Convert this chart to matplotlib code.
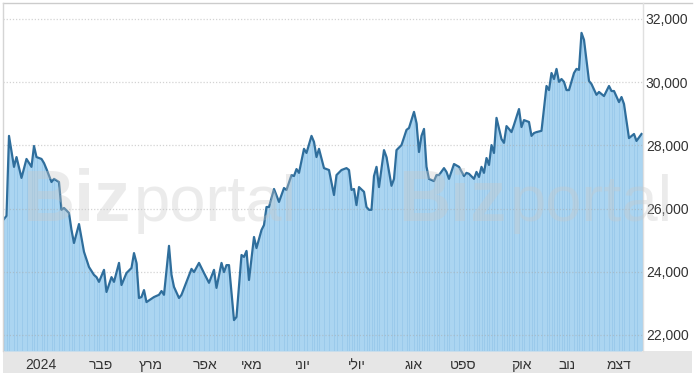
import matplotlib
matplotlib.use("Agg")
import matplotlib.pyplot as plt
from matplotlib.patches import Rectangle
from matplotlib.lines import Line2D
from matplotlib.ticker import StrMethodFormatter

plt.rcParams['font.family'] = ['Liberation Sans', 'DejaVu Sans']

# trading-session index and index level
sessions = [0, 1, 2, 4, 5, 7, 9, 11, 12, 13, 15, 16, 17, 19, 20, 22, 23, 24, 26, 27,
            28, 30, 32, 34, 36, 37, 38, 40, 41, 43, 44, 46, 47, 49, 51, 52, 53, 54, 55, 56,
            57, 60, 62, 63, 64, 66, 67, 68, 70, 71, 73, 75, 76, 78, 80, 82, 84, 85, 87, 88,
            89, 90, 92, 93, 95, 96, 97, 98, 100, 101, 103, 104, 105, 106, 108, 110, 112, 113, 115, 116,
            117, 118, 120, 121, 123, 124, 125, 126, 128, 130, 132, 133, 135, 137, 138, 139, 140, 141, 142, 144,
            145, 146, 147, 148, 149, 150, 152, 153, 155, 156, 157, 159, 161, 162, 164, 165, 166, 167, 168, 169,
            170, 172, 173, 174, 176, 177, 178, 180, 182, 184, 185, 186, 188, 189, 190, 191, 192, 193, 194, 195,
            196, 197, 199, 200, 201, 202, 203, 204, 206, 207, 208, 210, 211, 212, 213, 215, 217, 218, 219, 220,
            221, 222, 223, 224, 225, 226, 228, 229, 230, 231, 232, 234, 235, 237, 238, 240, 242, 243, 244, 246,
            247, 248, 250, 252, 253, 255]
values = [25670, 25770, 28300, 27320, 27630, 26970, 27570, 27320, 27980, 27630, 27570, 27440, 27250, 26840, 26940, 26840, 25960, 26020, 25860, 25320,
          24910, 25510, 24630, 24150, 23900, 23830, 23680, 24060, 23360, 23830, 23680, 24280, 23580, 23960, 24120, 24590, 24280, 23170, 23200, 23420,
          23040, 23200, 23270, 23390, 23270, 24820, 23900, 23520, 23170, 23270, 23680, 24090, 23990, 24280, 23960, 23650, 24060, 23490, 24280, 23990,
          24210, 24210, 22470, 22570, 24530, 24470, 24660, 23740, 25100, 24750, 25320, 25480, 26050, 26050, 26620, 26210, 26650, 26590, 27060, 27030,
          27250, 27130, 27890, 27760, 28300, 28110, 27630, 27890, 27280, 27220, 26430, 27060, 27220, 27280, 27220, 26590, 26620, 26110, 26680, 26530,
          26050, 25960, 25960, 27030, 27320, 26680, 27850, 27630, 26720, 26940, 27850, 28010, 28490, 28550, 29060, 28710, 27790, 28300, 28520, 27320,
          26940, 26870, 27060, 27060, 27280, 27160, 26940, 27410, 27320, 27030, 27130, 27100, 26940, 27160, 27000, 27320, 27130, 27600, 27380, 28010,
          27760, 28870, 28200, 28080, 28610, 28520, 28420, 28650, 29150, 28580, 28800, 28740, 28300, 28390, 28420, 28460, 29880, 29750, 30290, 30100,
          30420, 30010, 30100, 30010, 29750, 29750, 30290, 30420, 30390, 31560, 31340, 30040, 29940, 29600, 29690, 29560, 29880, 29720, 29720, 29370,
          29530, 29310, 28230, 28360, 28140, 28360]

month_ticks = [14.8, 38.8, 58.8, 80.4, 99.2, 119.6, 141.2, 164.0, 183.6, 206.8, 225.2, 246.0]
month_labels = ['2024', 'פבר', 'מרץ', 'אפר', 'מאי', 'יוני', 'יולי', 'אוג', 'ספט', 'אוק', 'נוב', 'דצמ']
y_ticks = [22000, 24000, 26000, 28000, 30000, 32000]


def visual(s):
    # Hebrew words are laid out right-to-left; digits stay as they are
    return s if s.isdigit() else s[::-1]


W, H = 700, 377
fig = plt.figure(figsize=(W / 100, H / 100), dpi=100)
fig.patch.set_facecolor('white')
ax = fig.add_axes([3 / W, (H - 351) / H, 640 / W, 348 / H])
ax.set_facecolor('white')

y_lo, y_hi = 21492, 32506
ax.set_ylim(y_lo, y_hi)
ax.set_xlim(-0.4, 255.6)

# grey x-axis band (drawn before the axes)
band = Rectangle((3 / W, (H - 373) / H), 689 / W, 22 / H,
                 transform=fig.transFigure, facecolor='#e6e6e6',
                 edgecolor='none', zorder=-1)
fig.patches.append(band)

ax.fill_between(sessions, values, y_lo, color='#abd5f1', linewidth=0, zorder=1)
ax.vlines(sessions, y_lo, values, color='#98c8ea', linewidth=0.6, zorder=1.5)
ax.plot(sessions, values, color='#2f6e9c', linewidth=1.6, solid_joinstyle='round', zorder=3)

for v in y_ticks:
    ax.axhline(v, color='#a8a8a8', alpha=0.5, linewidth=0.9, linestyle=(0, (1, 1.5)), zorder=2)

for s in ax.spines.values():
    s.set_visible(False)

ax.yaxis.tick_right()
ax.set_yticks(y_ticks)
ax.yaxis.set_major_formatter(StrMethodFormatter('{x:,.0f}'))
ax.tick_params(axis='y', length=0, pad=2, labelsize=10, labelcolor='#333333')
ax.set_xticks(month_ticks)
ax.set_xticklabels([visual(lbl) for lbl in month_labels])
ax.tick_params(axis='x', length=0, pad=5, labelsize=10, labelcolor='#333333')

# frame lines
fig.add_artist(Line2D([3 / W, 692 / W], [(H - 3) / H, (H - 3) / H], color='#cccccc', lw=1))
fig.add_artist(Line2D([3 / W, 3 / W], [(H - 351) / H, (H - 3) / H], color='#d5d5d5', lw=1))
fig.add_artist(Line2D([643 / W, 643 / W], [(H - 351) / H, (H - 3) / H], color='#e0e0e0', lw=1))

# watermark
for x0 in (22, 398):
    fig.text(x0 / W, (H - 221) / H, 'Biz', fontsize=52, fontweight='bold',
             color='#c8c8c8', alpha=0.35, va='baseline', ha='left', zorder=5)
    fig.text((x0 + 112) / W, (H - 221) / H, 'portal', fontsize=47,
             color='#c8c8c8', alpha=0.35, va='baseline', ha='left', zorder=5)

fig.savefig('out.png', dpi=100)
